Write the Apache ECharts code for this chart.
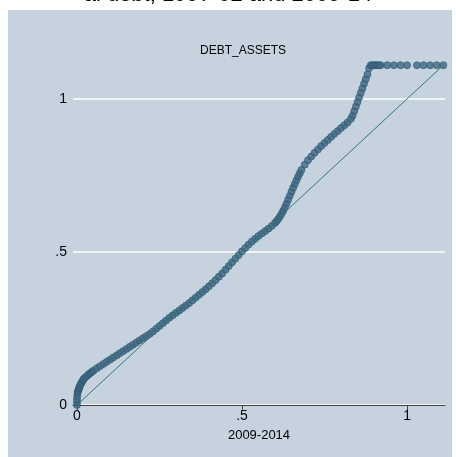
<!DOCTYPE html>
<html><head><meta charset="utf-8">
<script src="https://cdn.jsdelivr.net/npm/echarts@6/dist/echarts.min.js"></script>
<style>html,body{margin:0;padding:0;background:#fff}#c{width:456px;height:457px}</style>
</head><body><div id="c"></div>
<script>
const qx=[0,0,0,0.001,0.002,0.003,0.005,0.006,0.008,0.01,0.012,0.015,0.018,0.02,0.025,0.03,0.035,0.04,0.045,0.05,0.06,0.07,0.08,0.09,0.1,0.11,0.12,0.13,0.14,0.15,0.16,0.17,0.18,0.19,0.2,0.21,0.22,0.23,0.24,0.25,0.26,0.27,0.28,0.29,0.3,0.31,0.32,0.33,0.34,0.35,0.36,0.37,0.38,0.39,0.4,0.41,0.42,0.43,0.44,0.45,0.46,0.47,0.48,0.49,0.5,0.51,0.52,0.53,0.54,0.55,0.56,0.57,0.58,0.59,0.6,0.605,0.61,0.615,0.62,0.625,0.63,0.635,0.64,0.645,0.65,0.655,0.66,0.665,0.67,0.675,0.68,0.69,0.7,0.71,0.72,0.73,0.74,0.75,0.76,0.77,0.78,0.79,0.8,0.81,0.82,0.83,0.835,0.84,0.845,0.85,0.855,0.86,0.865,0.87,0.875,0.88,0.885,0.89,0.895,0.9,0.905,0.91,0.915,0.92,0.94,0.96,0.98,1.0,1.03,1.05,1.07,1.09,1.11];
const qy=[0,0.01,0.02,0.03,0.04,0.045,0.05,0.055,0.06,0.065,0.07,0.075,0.08,0.085,0.09,0.095,0.1,0.104,0.108,0.112,0.12,0.127,0.134,0.141,0.148,0.155,0.162,0.169,0.176,0.183,0.19,0.197,0.204,0.211,0.218,0.225,0.232,0.24,0.249,0.258,0.267,0.276,0.285,0.293,0.301,0.309,0.317,0.325,0.333,0.342,0.351,0.36,0.369,0.378,0.388,0.398,0.408,0.419,0.43,0.442,0.454,0.466,0.478,0.49,0.502,0.513,0.524,0.534,0.543,0.552,0.56,0.568,0.576,0.585,0.595,0.601,0.608,0.616,0.625,0.635,0.646,0.658,0.671,0.684,0.697,0.71,0.722,0.734,0.746,0.757,0.768,0.785,0.8,0.812,0.824,0.835,0.846,0.856,0.866,0.876,0.886,0.895,0.905,0.914,0.923,0.935,0.945,0.96,0.975,0.99,1.005,1.02,1.035,1.05,1.065,1.08,1.1,1.11,1.11,1.11,1.11,1.11,1.11,1.11,1.11,1.11,1.11,1.11,1.11,1.11,1.11,1.11,1.11];
const refLine=[[0,0],[1.11,1.11]];
const tickText={0:'0',0.5:'.5',1:'1'};
const font='Arial, Liberation Sans';
const chart=echarts.init(document.getElementById('c'));
chart.setOption({
 backgroundColor:'#fff',
 graphic:[{type:'rect',shape:{x:8,y:10,width:444,height:447},style:{fill:'#C6D2DE'},z:-10},
  {type:'text',left:'center',top:-16,style:{text:'al debt, 1997-02 and 2009-14',font:'22px Arial, Liberation Sans',fill:'#000'}}],
 title:{text:'DEBT_ASSETS',left:238,top:40,textAlign:'center',textStyle:{fontFamily:font,fontSize:12,fontWeight:'normal',color:'#000'}},
 grid:{left:73,right:11,top:53,bottom:52},
 xAxis:{type:'value',min:-0.012,max:1.115,name:'2009-2014',nameLocation:'middle',nameGap:24,
  nameTextStyle:{fontFamily:font,fontSize:13,color:'#000'},
  axisLine:{show:true,onZero:false,lineStyle:{color:'#444',width:1}},
  splitLine:{show:false},
  axisLabel:{color:'#000',fontSize:14,fontFamily:font,margin:4,customValues:[0,0.5,1],formatter:v=>tickText[v]??''},
  axisTick:{show:true,customValues:[0,0.5,1],length:5,lineStyle:{color:'#444'}}},
 yAxis:{type:'value',min:0,max:1.15,interval:0.5,axisLine:{show:false},axisTick:{show:false},
  splitLine:{show:true,showMaxLine:false,lineStyle:{color:'#fff',width:1.5}},
  axisLabel:{color:'#000',fontSize:14,fontFamily:font,margin:6,showMaxLabel:false,formatter:v=>tickText[v]??''}},
 series:[
  {type:'line',data:refLine,symbol:'none',lineStyle:{color:'#2E7A6E',width:1},z:3},
  {type:'scatter',data:qx.map((x,i)=>[x,qy[i]]),symbolSize:7,itemStyle:{color:'#3E6985',borderColor:'#2D5670',borderWidth:0.8},z:2}
 ]
});
</script></body></html>
